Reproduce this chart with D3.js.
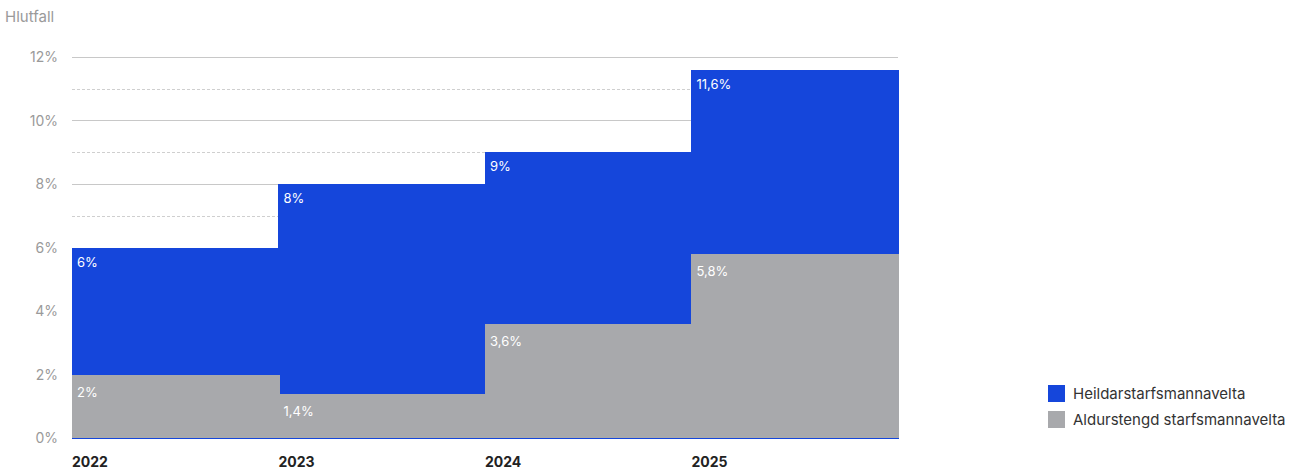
<!DOCTYPE html>
<html>
<head>
<meta charset="utf-8">
<script src="https://cdn.jsdelivr.net/npm/d3@7"></script>
<style>
  body { margin: 0; background: #fff; font-family: Inter, "Noto Sans", sans-serif; }
</style>
</head>
<body>
<div id="viz"></div>
<script>
var years = ["2022", "2023", "2024", "2025"],
    heildar = [6, 8, 9, 11.6],
    aldur = [2, 1.4, 3.6, 5.8],
    heildarLabels = ["6%", "8%", "9%", "11,6%"],
    aldurLabels = ["2%", "1,4%", "3,6%", "5,8%"],
    yTicks = [0, 2, 4, 6, 8, 10, 12],
    yMinor = [1, 3, 5, 7, 9, 11],
    seriesNames = ["Heildarstarfsmannavelta", "Aldurstengd starfsmannavelta"],
    colors = ["#1546db", "#a8a9ac"];

var width = 1290, height = 471,
    margin = {top: 57, left: 72, right: 392, bottom: 33},
    plotW = width - margin.left - margin.right,
    plotH = height - margin.top - margin.bottom;

var svg = d3.select("#viz").append("svg")
    .attr("width", width)
    .attr("height", height);

var x = d3.scaleBand().domain(years).range([0, plotW]).padding(0),
    y = d3.scaleLinear().domain([0, 12]).range([plotH, 0]);

var g = svg.append("g")
    .attr("transform", "translate(" + margin.left + "," + margin.top + ")");

// title
svg.append("text")
    .attr("x", 5).attr("y", 22)
    .attr("fill", "#9a9a9a")
    .style("font-size", "15px")
    .text("Hlutfall");

// grid
g.selectAll(".grid").data(yTicks).enter().append("line")
    .attr("x1", 0).attr("x2", plotW)
    .attr("y1", function(d){ return Math.round(y(d)) + 0.5; })
    .attr("y2", function(d){ return Math.round(y(d)) + 0.5; })
    .attr("stroke", "#c8c8c8");

g.selectAll(".minor").data(yMinor).enter().append("line")
    .attr("x1", 0).attr("x2", plotW)
    .attr("y1", function(d){ return Math.round(y(d)) + 0.5; })
    .attr("y2", function(d){ return Math.round(y(d)) + 0.5; })
    .attr("stroke", "#cfcfcf")
    .attr("stroke-dasharray", "3,2");

// y labels
g.selectAll(".ylab").data(yTicks).enter().append("text")
    .attr("x", -14)
    .attr("y", function(d){ return y(d) + 5; })
    .attr("text-anchor", "end")
    .attr("fill", "#9a9a9a")
    .style("font-size", "14px")
    .text(function(d){ return d + "%"; });

// bars
g.selectAll(".bar.heildar").data(years).enter().append("rect")
    .attr("x", function(d){ return Math.floor(x(d)); })
    .attr("y", function(d, i){ return y(heildar[i]); })
    .attr("width", Math.ceil(x.bandwidth()) + 1)
    .attr("height", function(d, i){ return y(0) - y(heildar[i]) + 1; })
    .attr("fill", colors[0])
    .attr("shape-rendering", "crispEdges");

g.selectAll(".bar.aldur").data(years).enter().append("rect")
    .attr("x", function(d){ return Math.floor(x(d)); })
    .attr("y", function(d, i){ return y(aldur[i]); })
    .attr("width", Math.ceil(x.bandwidth()) + 1)
    .attr("height", function(d, i){ return y(0) - y(aldur[i]); })
    .attr("fill", colors[1])
    .attr("shape-rendering", "crispEdges");

// bar labels
g.selectAll(".lab.heildar").data(years).enter().append("text")
    .attr("x", function(d){ return x(d) + 5; })
    .attr("y", function(d, i){ return y(heildar[i]) + 19; })
    .attr("fill", "#fff")
    .style("font-size", "13px")
    .text(function(d, i){ return heildarLabels[i]; });

g.selectAll(".lab.aldur").data(years).enter().append("text")
    .attr("x", function(d){ return x(d) + 5; })
    .attr("y", function(d, i){ return y(aldur[i]) + 22; })
    .attr("fill", "#fff")
    .style("font-size", "13px")
    .text(function(d, i){ return aldurLabels[i]; });

// x labels
g.selectAll(".xlab").data(years).enter().append("text")
    .attr("x", function(d){ return x(d); })
    .attr("y", plotH + 29)
    .attr("fill", "#222")
    .style("font-size", "14px")
    .style("font-weight", "bold")
    .text(function(d){ return d; });

// legend
var legend = svg.selectAll(".legend").data(seriesNames).enter().append("g")
    .attr("transform", function(d, i){ return "translate(1048," + (385 + i * 26) + ")"; });

legend.append("rect")
    .attr("width", 17).attr("height", 17)
    .attr("fill", function(d, i){ return colors[i]; });

legend.append("text")
    .attr("x", 25).attr("y", 14)
    .attr("fill", "#333")
    .style("font-size", "15px")
    .text(function(d){ return d; });
</script>
</body>
</html>
